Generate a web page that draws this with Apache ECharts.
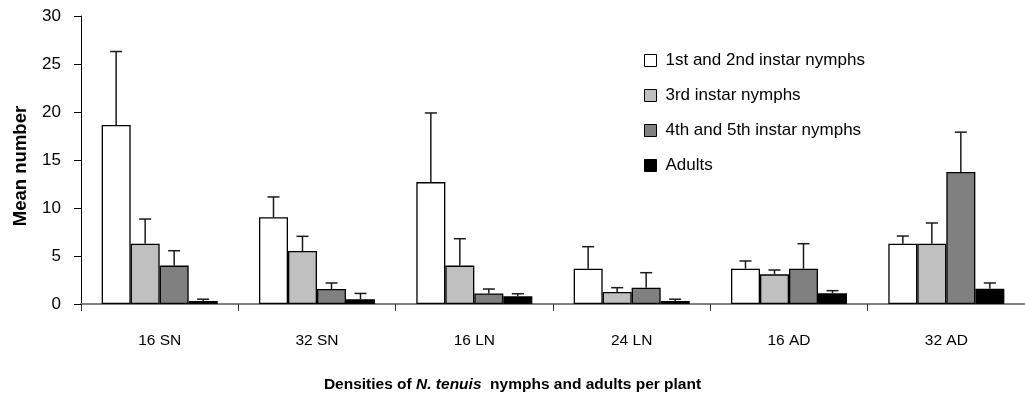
<!DOCTYPE html>
<html>
<head>
<meta charset="utf-8">
<script src="https://cdn.jsdelivr.net/npm/echarts@6/dist/echarts.min.js"></script>
<style>
html,body{margin:0;padding:0;background:#fff;}
#chart{width:1025px;height:396px;}
</style>
</head>
<body>
<div id="chart"></div>
<script>
const categories = ['16 SN', '32 SN', '16 LN', '24 LN', '16 AD', '32 AD'];
const seriesNames = ['1st and 2nd instar nymphs', '3rd instar nymphs', '4th and 5th instar nymphs', 'Adults'];
const yTicks = [0, 5, 10, 15, 20, 25, 30];

const firstSecond = [18.65, 9.03, 12.7, 3.68, 3.68, 6.28];
const third       = [6.28, 5.52, 4.0, 1.25, 3.09, 6.28];
const fourthFifth = [4.0, 1.56, 1.1, 1.7, 3.68, 13.75];
const adults      = [0.3, 0.49, 0.8, 0.3, 1.11, 1.6];

const errFirstSecond = [7.65, 2.12, 7.2, 2.29, 0.8, 0.8];
const errThird       = [2.57, 1.53, 2.8, 0.45, 0.45, 2.16];
const errFourthFifth = [1.55, 0.63, 0.46, 1.56, 2.6, 4.15];
const errAdults      = [0.2, 0.61, 0.27, 0.2, 0.28, 0.59];

const means = [firstSecond, third, fourthFifth, adults];
const errs = [errFirstSecond, errThird, errFourthFifth, errAdults];
const colors = ['#ffffff', '#c0c0c0', '#808080', '#000000'];

const BAR_W = 29;
const FONT = '"Liberation Sans", Arial, sans-serif';

const chart = echarts.init(document.getElementById('chart'), null, {renderer: 'canvas'});

const series = [];
means.forEach((m, i) => {
  series.push({
    name: seriesNames[i],
    type: 'bar',
    data: m,
    barWidth: BAR_W,
    barGap: '0%',
    itemStyle: {color: colors[i], borderColor: '#000', borderWidth: 1.3},
    z: 2
  });
});
means.forEach((m, i) => {
  const offset = (i - 1.5) * BAR_W;
  series.push({
    type: 'custom',
    data: m.map((v, k) => [k, v + errs[i][k], v]),
    z: 3,
    silent: true,
    renderItem: function (params, api) {
      const x = api.coord([api.value(0), 0])[0] + offset;
      const yTop = api.coord([api.value(0), api.value(1)])[1];
      const yBase = api.coord([api.value(0), api.value(2)])[1];
      const st = {stroke: '#1a1a1a', lineWidth: 1.5};
      return {
        type: 'group',
        children: [
          {type: 'line', shape: {x1: x, y1: yBase, x2: x, y2: yTop}, style: st},
          {type: 'line', shape: {x1: x - 6, y1: yTop, x2: x + 6, y2: yTop}, style: st}
        ]
      };
    }
  });
});

chart.setOption({
  animation: false,
  backgroundColor: '#fff',
  textStyle: {fontFamily: FONT},
  title: {
    text: '{a|Densities of }{i|N. tenuis}{a|  nymphs and adults per plant}',
    left: 'center',
    top: 372,
    textStyle: {
      rich: {
        a: {fontFamily: FONT, fontSize: 15.5, fontWeight: 'bold', color: '#000'},
        i: {fontFamily: FONT, fontSize: 15.5, fontWeight: 'bold', fontStyle: 'italic', color: '#000'}
      }
    }
  },
  legend: {
    orient: 'vertical',
    left: 644,
    top: 52,
    padding: 0,
    itemWidth: 12,
    itemHeight: 12,
    itemGap: 18,
    selectedMode: false,
    icon: 'rect',
    data: seriesNames,
    itemStyle: {borderColor: '#000', borderWidth: 1},
    textStyle: {fontFamily: FONT, fontSize: 17, color: '#000', padding: [0, 0, 0, 4]}
  },
  grid: {left: 81, top: 16, width: 952, height: 288, containLabel: false},
  xAxis: {
    type: 'category',
    data: categories,
    boundaryGap: true,
    axisLine: {lineStyle: {color: '#808080', width: 2}},
    axisTick: {show: true, length: 7, lineStyle: {color: '#333', width: 1}},
    axisLabel: {fontFamily: FONT, fontSize: 15.5, color: '#000', margin: 29}
  },
  yAxis: {
    type: 'value',
    min: 0,
    max: 30,
    interval: 5,
    name: 'Mean number',
    nameLocation: 'middle',
    nameRotate: 90,
    nameGap: 51,
    nameTextStyle: {fontFamily: FONT, fontSize: 18.5, fontWeight: 'bold', color: '#000', padding: [0, 12, 0, 0]},
    axisLine: {show: true, lineStyle: {color: '#000', width: 1}},
    axisTick: {show: true, length: 7, inside: false, lineStyle: {color: '#000'}},
    axisLabel: {fontFamily: FONT, fontSize: 17, color: '#000', margin: 20,
      formatter: v => (yTicks.indexOf(v) >= 0 ? String(v) : '')},
    splitLine: {show: false}
  },
  series: series
});
</script>
</body>
</html>
